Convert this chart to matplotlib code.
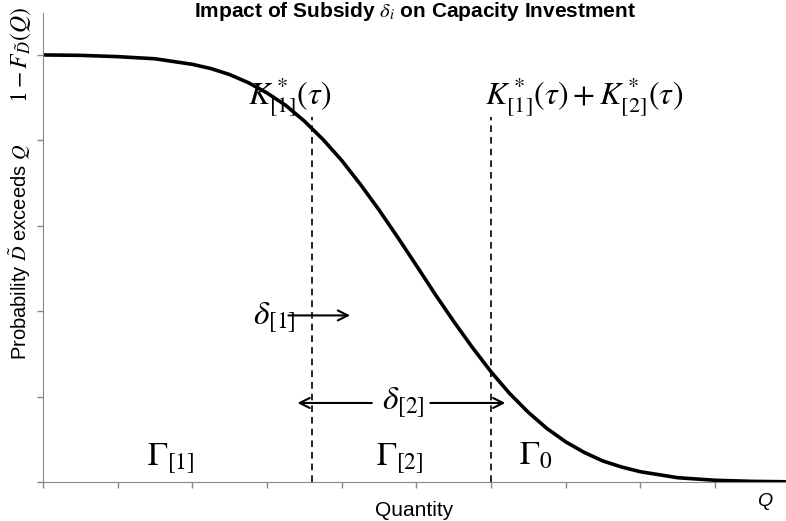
import numpy as np
import matplotlib
matplotlib.use("Agg")
import matplotlib.pyplot as plt

plt.rcParams['font.family'] = ['Liberation Sans', 'DejaVu Sans']
plt.rcParams['mathtext.fontset'] = 'stix'

# survival curve 1 - F(Q)
quantity = [0.0, 0.5, 1.0, 1.5, 2.0, 2.25, 2.5, 2.75, 3.0, 3.25, 3.5, 3.75, 4.0,
            4.25, 4.5, 4.75, 5.0, 5.25, 5.5, 5.75, 6.0, 6.25, 6.5, 6.75, 7.0,
            7.25, 7.5, 7.75, 8.0, 8.5, 9.0, 9.5, 9.95]
prob_exceed = [1.000, 0.999, 0.996, 0.991, 0.978, 0.968, 0.954, 0.935, 0.911, 0.882,
               0.845, 0.802, 0.753, 0.697, 0.637, 0.573, 0.507, 0.440, 0.376, 0.315,
               0.258, 0.207, 0.163, 0.125, 0.094, 0.069, 0.049, 0.035, 0.024, 0.010,
               0.004, 0.0014, 0.0005]

k1 = 3.6         # K*_[1](tau)
k12 = 6.0        # K*_[1](tau) + K*_[2](tau)
dash_top = 0.855

fig = plt.figure(figsize=(7.86, 5.21), dpi=100)
ax = fig.add_axes([0.0547, 0.0749, 0.9453, 0.9])

ax.plot(quantity, prob_exceed, color='black', lw=2.6, solid_joinstyle='round')

ax.vlines([k1, k12], 0, dash_top, colors='black', linestyles=(0, (4, 3)), lw=1.2)

ax.set_xlim(0, 9.95)
ax.set_ylim(0, 1.098)
ax.set_xticks(np.arange(0, 10, 1))
ax.set_xticklabels([])
ax.set_yticks([0, 0.2, 0.4, 0.6, 0.8, 1.0])
ax.set_yticklabels(['', '', '', '', '', r'$1-F_{\tilde{D}}(Q)$'], rotation=90,
                   va='center', fontsize=17)
ax.tick_params(axis='both', direction='out', length=4, color='#888888', width=1)
ax.tick_params(axis='y', pad=3)
for s in ['top', 'right']:
    ax.spines[s].set_visible(False)
for s in ['left', 'bottom']:
    ax.spines[s].set_color('#888888')

ax.set_xlabel('Quantity', fontsize=15, labelpad=6)
ax.set_ylabel(r'Probability $\tilde{D}$ exceeds $Q$', fontsize=14.5)
ax.yaxis.set_label_coords(-0.014, 0.49)
fig.text(0.973, 0.037, 'Q', fontsize=14, style='italic', ha='center', va='center')

fig.text(0.528, 0.977, r'Impact of Subsidy $\boldsymbol{\delta_i}$ on Capacity Investment',
         fontsize=15, fontweight='bold', ha='center', va='center')

ax.text(k1 - 0.3, 0.90, r'$K^*_{[1]}(\tau)$', fontsize=23, ha='center', va='center')
ax.text(k12 + 1.25, 0.90, r'$K^*_{[1]}(\tau)+K^*_{[2]}(\tau)$', fontsize=23,
        ha='center', va='center')

# delta arrows
ax.text(3.1, 0.385, r'$\delta_{[1]}$', fontsize=24, ha='center', va='center')
ax.annotate('', xy=(4.15, 0.39), xytext=(3.25, 0.39),
            arrowprops=dict(arrowstyle='->', color='black', lw=1.5, mutation_scale=18))
ax.text(4.83, 0.185, r'$\delta_{[2]}$', fontsize=24, ha='center', va='center')
ax.annotate('', xy=(3.37, 0.185), xytext=(4.44, 0.185),
            arrowprops=dict(arrowstyle='->', color='black', lw=1.5, mutation_scale=18))
ax.annotate('', xy=(6.23, 0.185), xytext=(5.15, 0.185),
            arrowprops=dict(arrowstyle='->', color='black', lw=1.5, mutation_scale=18))

ax.text(1.71, 0.055, r'$\Gamma_{[1]}$', fontsize=24, ha='center', va='center')
ax.text(4.78, 0.055, r'$\Gamma_{[2]}$', fontsize=24, ha='center', va='center')
ax.text(6.6, 0.06, r'$\Gamma_0$', fontsize=24, ha='center', va='center')

fig.savefig('out.png', dpi=100)
